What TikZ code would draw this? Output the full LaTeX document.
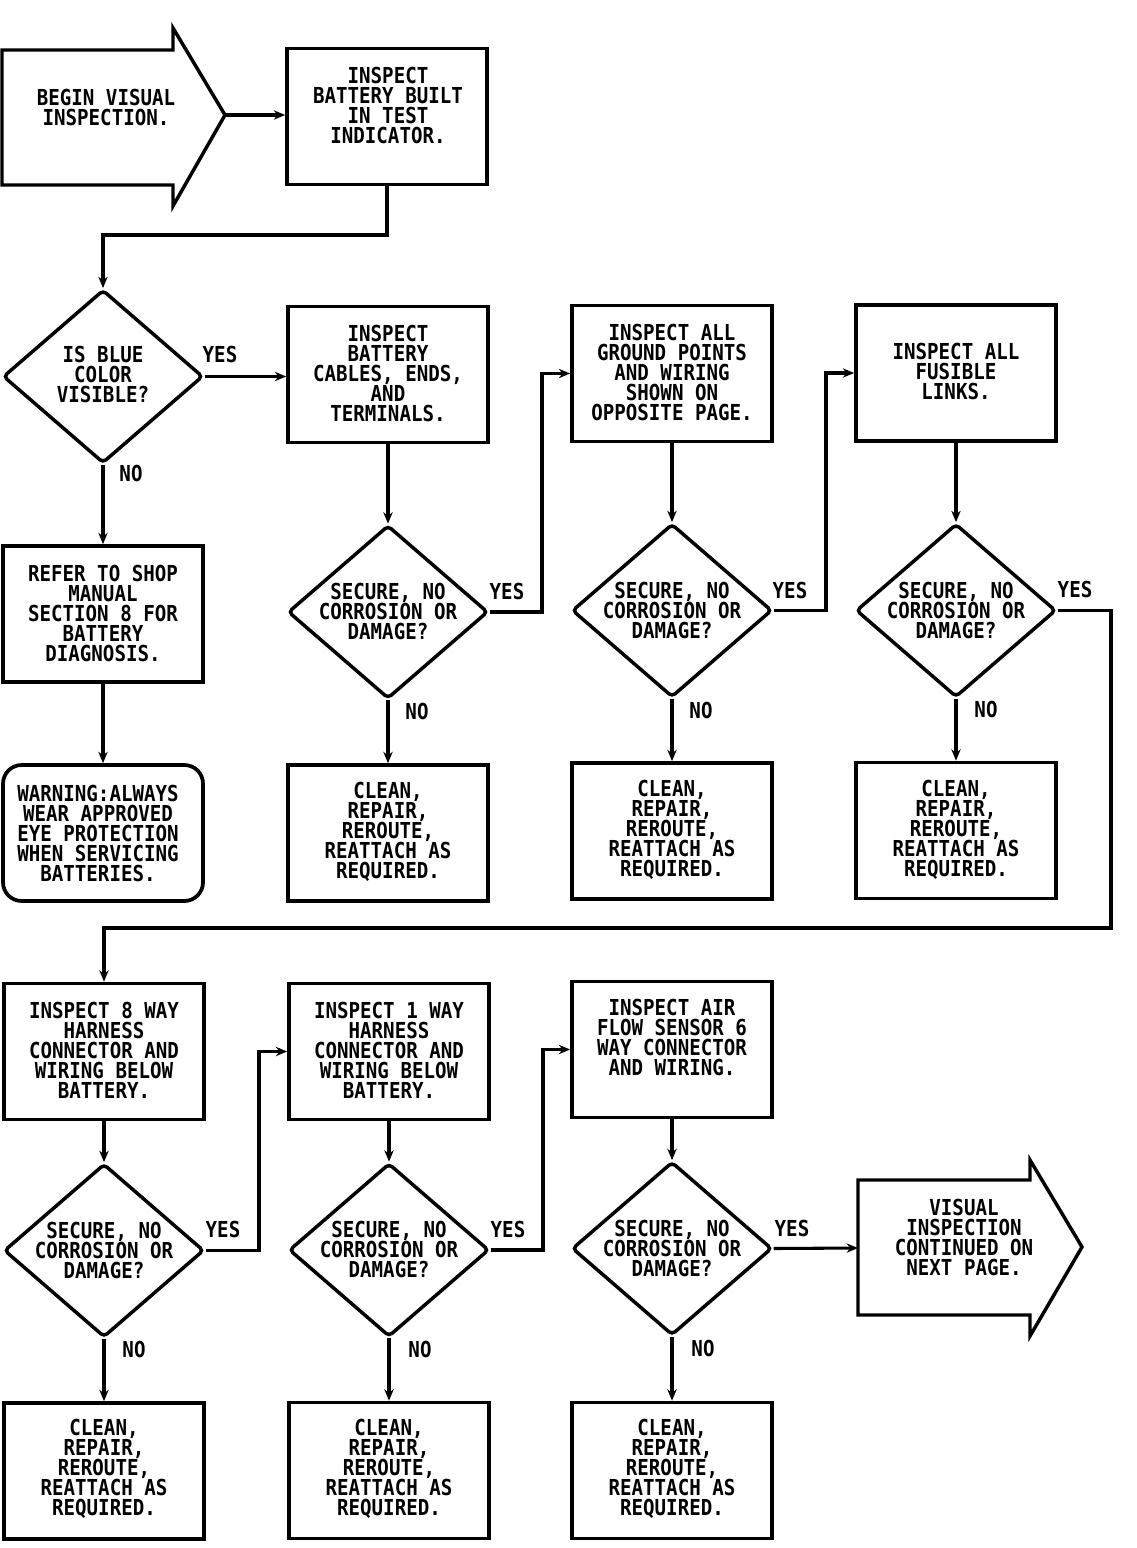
\documentclass[tikz,border=0pt]{standalone}
\usepackage{fontspec}
\newfontfamily\plotfont{DejaVu Sans Mono}[FakeStretch=0.87]
\usetikzlibrary{shapes.geometric,arrows.meta}
\begin{document}
\begin{tikzpicture}[x=0.75pt,y=-0.75pt,
  box/.style={draw,line width=2.8pt,minimum width=150pt,minimum height=102pt,inner sep=0pt},
  warnbox/.style={box,rounded corners=14pt},
  dec/.style={draw,shape=diamond,line width=2.6pt,minimum width=150pt,minimum height=130pt,inner sep=0pt,rounded corners=3pt},
  txt/.style={align=center,inner sep=0pt,font=\plotfont\bfseries\fontsize{16.5}{15}\selectfont},
  arr/.style={line width=2.3pt,-{Stealth[length=8.5pt,width=7pt]}},
  bigarrow/.style={draw,line width=2.6pt,line join=miter}]
\useasboundingbox (0,0) rectangle (1136,1548);

% begin arrow
\draw[bigarrow] (2,50) -- (173,50) -- (173,28) -- (225,115) -- (173,206) -- (173,185) -- (2,185) -- cycle;
\coordinate (begintip) at (225,115);
\node[txt] (begint) at (106,107) {BEGIN VISUAL\\INSPECTION.};

% end arrow
\draw[bigarrow] (858,1180) -- (1030,1180) -- (1030,1160) -- (1082,1247) -- (1030,1336) -- (1030,1315) -- (858,1315) -- cycle;
\coordinate (endin) at (858,1248);
\node[txt] (endt) at (964,1237) {VISUAL\\INSPECTION\\CONTINUED ON\\NEXT PAGE.};

% boxes
\node[box] (box1) at (387,116.5) {};
\node[txt] (box1t) at (388,105) {INSPECT\\BATTERY BUILT\\IN TEST\\INDICATOR.};

\node[dec] (d1) at (103,376.5) {};
\node[txt] (d1t) at (103,374) {IS BLUE\\COLOR\\VISIBLE?};

\node[box] (box2) at (388,374.5) {};
\node[txt] (box2t) at (388,373) {INSPECT\\BATTERY\\CABLES, ENDS,\\AND\\TERMINALS.};

\node[box] (box3) at (103,614) {};
\node[txt] (box3t) at (103,613) {REFER TO SHOP\\MANUAL\\SECTION 8 FOR\\BATTERY\\DIAGNOSIS.};

\node[warnbox] (warn) at (103,833) {};
\node[txt] (warnt) at (98,833) {WARNING:ALWAYS\\WEAR APPROVED\\EYE PROTECTION\\WHEN SERVICING\\BATTERIES.};

\node[dec] (d2) at (388,612) {};
\node[txt] (d2t) at (388,611) {SECURE, NO\\CORROSION OR\\DAMAGE?};

\node[box] (clean1) at (388,833) {};
\node[txt] (clean1t) at (388,832) {CLEAN,\\REPAIR,\\REROUTE,\\REATTACH AS\\REQUIRED.};

\node[box] (box4) at (672,373.5) {};
\node[txt] (box4t) at (672,372) {INSPECT ALL\\GROUND POINTS\\AND WIRING\\SHOWN ON\\OPPOSITE PAGE.};

\node[dec] (d3) at (672,610.5) {};
\node[txt] (d3t) at (672,610) {SECURE, NO\\CORROSION OR\\DAMAGE?};

\node[box] (clean2) at (672,831) {};
\node[txt] (clean2t) at (672,830) {CLEAN,\\REPAIR,\\REROUTE,\\REATTACH AS\\REQUIRED.};

\node[box] (box5) at (956,373) {};
\node[txt] (box5t) at (956,371) {INSPECT ALL\\FUSIBLE\\LINKS.};

\node[dec] (d4) at (956,610.5) {};
\node[txt] (d4t) at (956,610) {SECURE, NO\\CORROSION OR\\DAMAGE?};

\node[box] (clean3) at (956,830.5) {};
\node[txt] (clean3t) at (956,830) {CLEAN,\\REPAIR,\\REROUTE,\\REATTACH AS\\REQUIRED.};

\node[box] (box6) at (104,1051.5) {};
\node[txt] (box6t) at (104,1050) {INSPECT 8 WAY\\HARNESS\\CONNECTOR AND\\WIRING BELOW\\BATTERY.};

\node[dec] (d5) at (104,1250.5) {};
\node[txt] (d5t) at (104,1250) {SECURE, NO\\CORROSION OR\\DAMAGE?};

\node[box] (clean4) at (104,1471) {};
\node[txt] (clean4t) at (104,1469) {CLEAN,\\REPAIR,\\REROUTE,\\REATTACH AS\\REQUIRED.};

\node[box] (box7) at (389,1051.5) {};
\node[txt] (box7t) at (389,1050) {INSPECT 1 WAY\\HARNESS\\CONNECTOR AND\\WIRING BELOW\\BATTERY.};

\node[dec] (d6) at (389,1250) {};
\node[txt] (d6t) at (389,1249) {SECURE, NO\\CORROSION OR\\DAMAGE?};

\node[box] (clean5) at (389,1470.5) {};
\node[txt] (clean5t) at (389,1469) {CLEAN,\\REPAIR,\\REROUTE,\\REATTACH AS\\REQUIRED.};

\node[box] (box8) at (672,1049.5) {};
\node[txt] (box8t) at (672,1037) {INSPECT AIR\\FLOW SENSOR 6\\WAY CONNECTOR\\AND WIRING.};

\node[dec] (d7) at (672,1248.5) {};
\node[txt] (d7t) at (672,1248) {SECURE, NO\\CORROSION OR\\DAMAGE?};

\node[box] (clean6) at (672,1470.5) {};
\node[txt] (clean6t) at (672,1469) {CLEAN,\\REPAIR,\\REROUTE,\\REATTACH AS\\REQUIRED.};

% YES / NO labels
\node[txt] (y1) at (220,354) {YES};
\node[txt] (y2) at (507,591) {YES};
\node[txt] (y3) at (790,590) {YES};
\node[txt] (y4) at (1075,589) {YES};
\node[txt] (y5) at (223,1229) {YES};
\node[txt] (y6) at (508,1229) {YES};
\node[txt] (y7) at (792,1228) {YES};
\node[txt] (n1) at (131,473) {NO};
\node[txt] (n2) at (417,711) {NO};
\node[txt] (n3) at (701,710) {NO};
\node[txt] (n4) at (986,709) {NO};
\node[txt] (n5) at (134,1349) {NO};
\node[txt] (n6) at (420,1349) {NO};
\node[txt] (n7) at (703,1348) {NO};

% connectors
\draw[arr] (begintip) -- (begintip -| box1.west);
\draw[arr] (box1.south) -- (box1.south |- 0,235) -| (d1.north);
\draw[arr] (d1.east) -- (d1.east -| box2.west);
\draw[arr] (d1.south) -- (box3.north);
\draw[arr] (box3.south) -- (warn.north);
\draw[arr] (box2.south) -- (d2.north);
\draw[arr] (d2.south) -- (clean1.north);
\draw[arr] (d2.east) -- (542,612) |- (box4.west);
\draw[arr] (box4.south) -- (d3.north);
\draw[arr] (d3.south) -- (clean2.north);
\draw[arr] (d3.east) -- (826,610.5) |- (box5.west);
\draw[arr] (box5.south) -- (d4.north);
\draw[arr] (d4.south) -- (clean3.north);
\draw[arr] (d4.east) -- (1111,610.5) -- (1111,928) -| (box6.north);
\draw[arr] (box6.south) -- (d5.north);
\draw[arr] (d5.south) -- (clean4.north);
\draw[arr] (d5.east) -- (259,1250.5) |- (box7.west);
\draw[arr] (box7.south) -- (d6.north);
\draw[arr] (d6.south) -- (clean5.north);
\draw[arr] (d6.east) -- (543,1250) |- (box8.west);
\draw[arr] (box8.south) -- (d7.north);
\draw[arr] (d7.south) -- (clean6.north);
\draw[arr] (d7.east) -- (endin);
\end{tikzpicture}
\end{document}
